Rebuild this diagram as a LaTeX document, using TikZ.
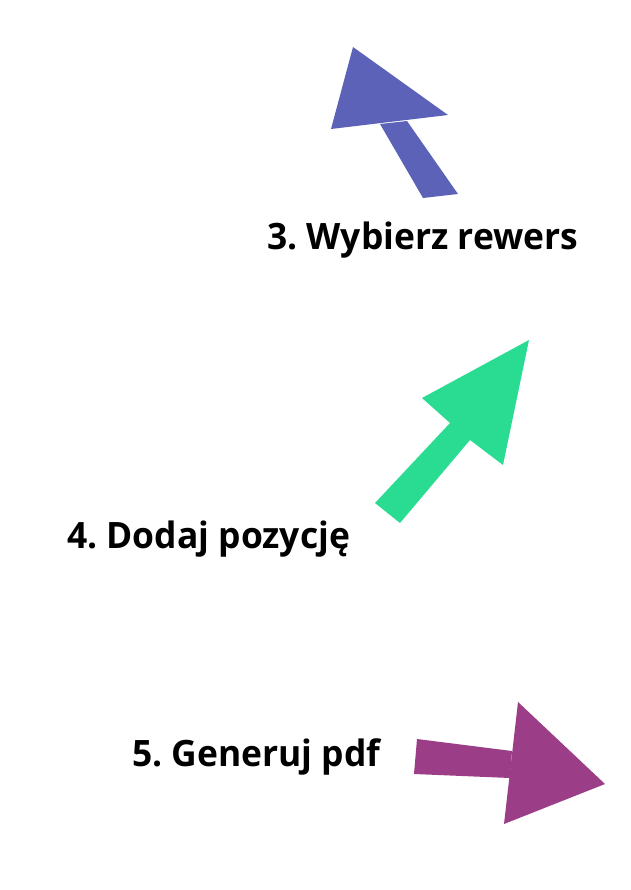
\documentclass[tikz,border=0pt]{standalone}
\usepackage{fontspec}
\setmainfont{Open Sans}
\usepackage{tikz}
\definecolor{stepblue}{HTML}{5B62B8}
\definecolor{stepgreen}{HTML}{2ADC92}
\definecolor{steppurple}{HTML}{9B3D87}
\tikzset{steplabel/.style={anchor=base west,inner sep=0pt,xscale=0.975,font=\fontsize{31}{37}\selectfont\bfseries}}
\frenchspacing
\begin{document}
\begin{tikzpicture}[x=0.03cm,y=-0.03cm]
    \useasboundingbox (0,0) rectangle (630,890);
    % krok 3
    \fill [stepblue] (380,124)--(407,121)--(458,194)--(423,198)--cycle;
    \fill [stepblue] (353,47)--(448,115)--(331,129)--cycle;
    \node [steplabel] (wybierz) at (267,249) {3. Wybierz rewers};
    % krok 4
    \fill [stepgreen] (529,340)--(503,465)--(470,440)--(400,523)--(375,503)--(450,423)--(422,398)--cycle;
    \node [steplabel] (dodaj) at (67,548) {4. Dodaj pozycję};
    % krok 5
    \fill [steppurple] (417,739)--(512,751)--(510,778)--(414,774)--cycle;
    \fill [steppurple] (518,702)--(605,784)--(504,824)--cycle;
    \node [steplabel] (generuj) at (132,766) {5. Generuj pdf};
\end{tikzpicture}
\end{document}
